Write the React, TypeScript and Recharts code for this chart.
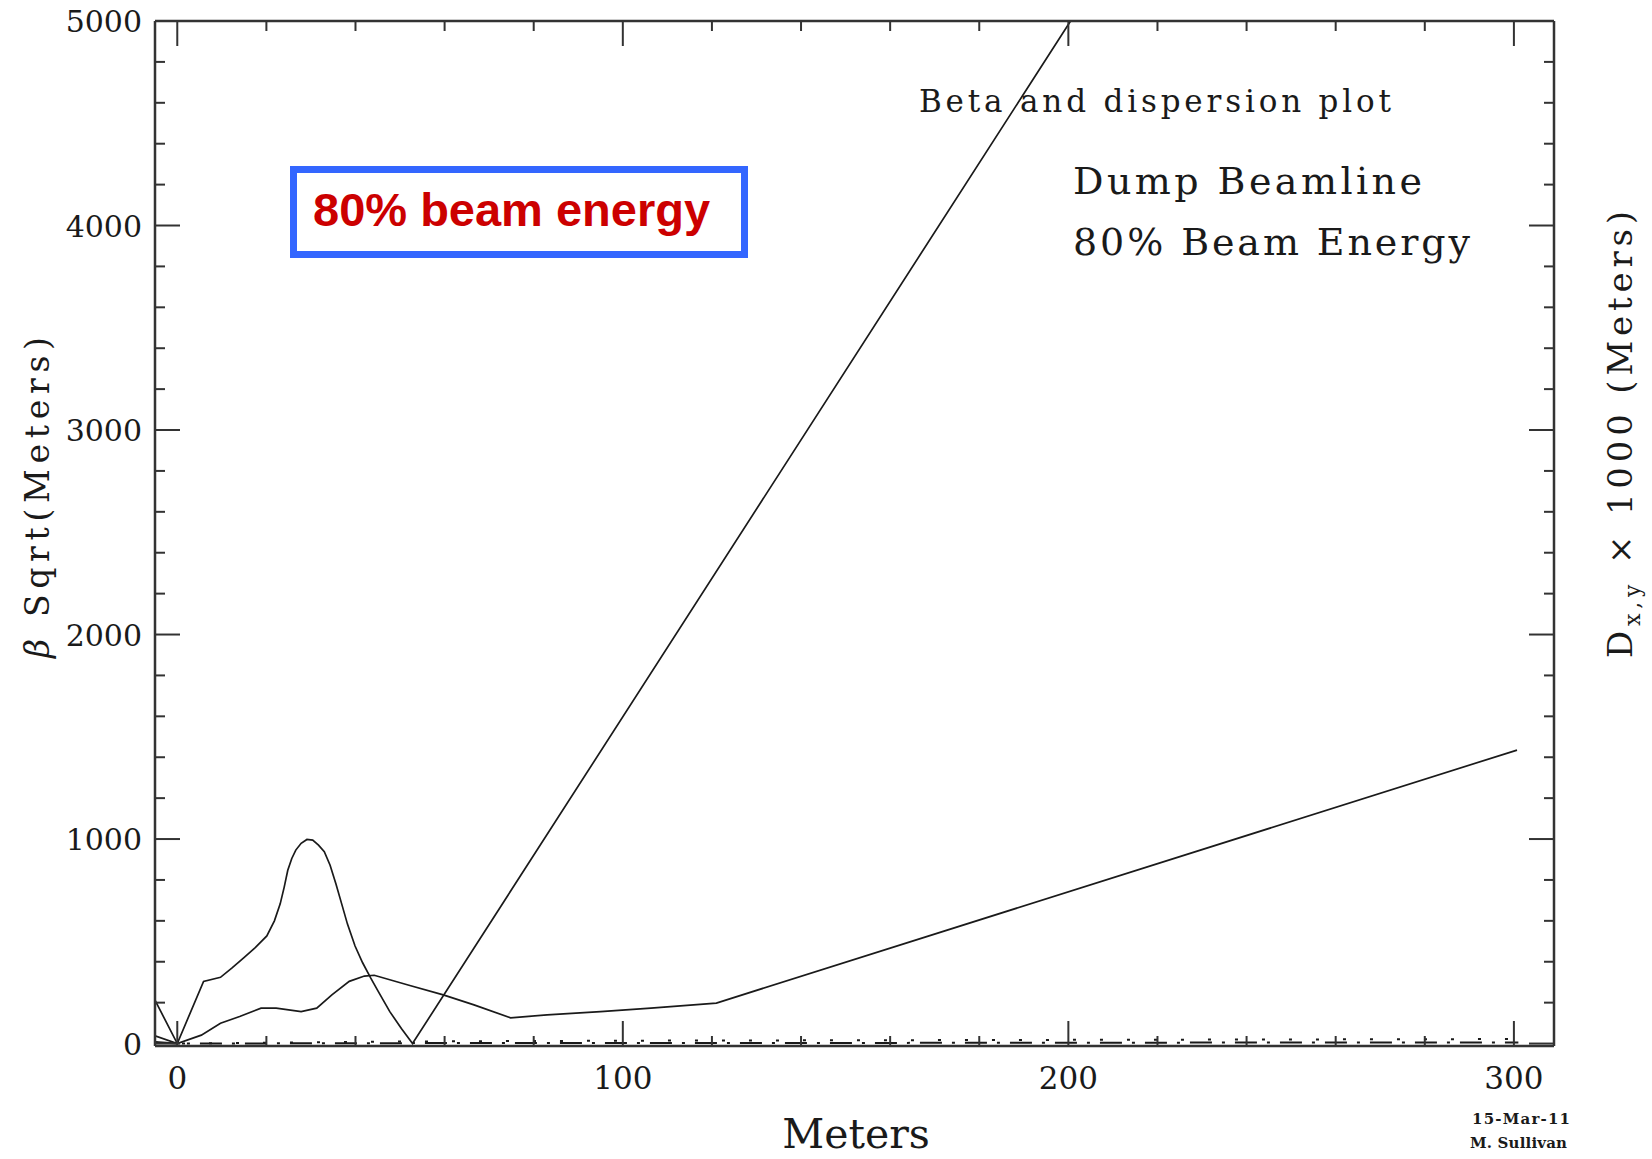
import React from 'react';
import { LineChart, Line, XAxis, YAxis } from 'recharts';

// ---- tick values ----
const xTicks = [0, 20, 40, 60, 80, 100, 120, 140, 160, 180, 200, 220, 240, 260, 280, 300];
const xLabelTicks = [0, 100, 200, 300];
const yTicks = [0, 200, 400, 600, 800, 1000, 1200, 1400, 1600, 1800, 2000, 2200, 2400, 2600, 2800, 3000, 3200, 3400, 3600, 3800, 4000, 4200, 4400, 4600, 4800, 5000];
const yLabelTicks = [0, 1000, 2000, 3000, 4000, 5000];

// ---- beta curve with the big peak (then steep straight rise) ----
const betaAs = [-5, 0, 5.9, 9.7, 12.3, 14.9, 17.5, 20.1, 21.8, 23.1, 24.0, 24.8, 25.7, 26.6, 27.8, 29.1, 30.4, 31.7, 33.0, 34.3, 35.6, 36.9, 38.2, 39.9, 41.6, 43.4, 45.1, 47.7, 50.3, 52.8, 200.5];
const betaAv = [212, 0, 304, 324, 370, 419, 469, 526, 600, 683, 765, 847, 905, 946, 979, 998, 995, 970, 938, 872, 781, 683, 584, 477, 395, 321, 255, 156, 74, 0, 5000];

// ---- beta curve with the small bump (then slow straight rise) ----
const betaBs = [-5, 0, 5.4, 9.7, 14, 18.8, 22.2, 27.8, 31.3, 34.7, 38.6, 42, 44.2, 52, 59.7, 66.6, 74.8, 83, 95, 106.3, 121, 300.7];
const betaBv = [38, 0, 41, 99, 132, 173, 173, 156, 173, 238, 304, 330, 334, 285, 238, 189, 126, 140, 156, 173, 198, 1435];

// ---- dispersion (x1000), hugging zero ----
const dispXs = [-5, 0, 50, 100, 150, 200, 250, 301];
const dispXv = [8, 0, 2, 3, 3, 4, 5, 5];
const dispYs = [-5, 0, 50, 100, 150, 200, 250, 301];
const dispYv = [4, 0, 10, 14, 16, 18, 20, 22];

const toData = (s: number[], v: number[]) => s.map((x, i) => ({ x, y: v[i] }));
const betaA = toData(betaAs, betaAv);
const betaB = toData(betaBs, betaBv);
const dispX = toData(dispXs, dispXv);
const dispY = toData(dispYs, dispYv);

const AXIS = '#333';
const INK = '#1a1a1a';
const SERIF = "'DejaVu Serif', serif";
const W = 1652;
const H = 1159;

const LeftTick = (p: any) => {
  const { x, y, payload } = p;
  const v = payload.value;
  const major = yLabelTicks.includes(v);
  return (
    <g>
      <line x1={x} y1={y} x2={x + (major ? 25 : 10)} y2={y} stroke={AXIS} strokeWidth={2} />
      {major && (
        <text x={x - 13} y={y + 11} textAnchor="end" fontFamily={SERIF} fontSize={30} fill={INK}>
          {v}
        </text>
      )}
    </g>
  );
};

const RightTick = (p: any) => {
  const { x, y, payload } = p;
  const major = yLabelTicks.includes(payload.value);
  return <line x1={x} y1={y} x2={x - (major ? 25 : 10)} y2={y} stroke={AXIS} strokeWidth={2} />;
};

const BottomTick = (p: any) => {
  const { x, y, payload } = p;
  const v = payload.value;
  const major = xLabelTicks.includes(v);
  return (
    <g>
      <line x1={x} y1={y} x2={x} y2={y - (major ? 25 : 10)} stroke={AXIS} strokeWidth={2} />
      {major && (
        <text x={x} y={y + 43} textAnchor="middle" fontFamily={SERIF} fontSize={31} fill={INK}>
          {v}
        </text>
      )}
    </g>
  );
};

const TopTick = (p: any) => {
  const { x, y, payload } = p;
  const major = xLabelTicks.includes(payload.value);
  return <line x1={x} y1={y} x2={x} y2={y + (major ? 25 : 10)} stroke={AXIS} strokeWidth={2} />;
};

export default function App() {
  return (
    <div style={{ position: 'relative', width: W, height: H, background: '#fff' }}>
      <style>{'body{margin:0}'}</style>
      <LineChart width={W} height={H} margin={{ top: 11, right: 88, bottom: 73, left: 55 }}>
        <XAxis
          xAxisId="b"
          type="number"
          dataKey="x"
          domain={[-5, 309]}
          allowDataOverflow
          ticks={xTicks}
          interval={0}
          tickSize={0}
          tickMargin={0}
          height={40}
          axisLine={{ stroke: AXIS, strokeWidth: 2.5 }}
          tickLine={false}
          tick={<BottomTick />}
        />
        <XAxis
          xAxisId="t"
          orientation="top"
          type="number"
          dataKey="x"
          domain={[-5, 309]}
          allowDataOverflow
          ticks={xTicks}
          interval={0}
          tickSize={0}
          tickMargin={0}
          height={10}
          axisLine={{ stroke: AXIS, strokeWidth: 2.5 }}
          tickLine={false}
          tick={<TopTick />}
        />
        <YAxis
          yAxisId="l"
          type="number"
          dataKey="y"
          domain={[-12, 5000]}
          allowDataOverflow
          ticks={yTicks}
          interval={0}
          tickSize={0}
          tickMargin={0}
          width={100}
          axisLine={{ stroke: AXIS, strokeWidth: 2.5 }}
          tickLine={false}
          tick={<LeftTick />}
        />
        <YAxis
          yAxisId="r"
          orientation="right"
          type="number"
          dataKey="y"
          domain={[-12, 5000]}
          allowDataOverflow
          ticks={yTicks}
          interval={0}
          tickSize={0}
          tickMargin={0}
          width={10}
          axisLine={{ stroke: AXIS, strokeWidth: 2.5 }}
          tickLine={false}
          tick={<RightTick />}
        />
        <Line xAxisId="b" yAxisId="l" data={dispX} dataKey="y" type="linear" stroke={INK} strokeWidth={2} strokeDasharray="22 10 3 10" dot={false} isAnimationActive={false} />
        <Line xAxisId="b" yAxisId="l" data={dispY} dataKey="y" type="linear" stroke={INK} strokeWidth={2} strokeDasharray="3 24" dot={false} isAnimationActive={false} />
        <Line xAxisId="b" yAxisId="l" data={betaB} dataKey="y" type="linear" stroke={INK} strokeWidth={1.7} dot={false} isAnimationActive={false} />
        <Line xAxisId="b" yAxisId="l" data={betaA} dataKey="y" type="linear" stroke={INK} strokeWidth={1.7} dot={false} isAnimationActive={false} />
      </LineChart>
      <svg
        width={W}
        height={H}
        style={{ position: 'absolute', left: 0, top: 0, pointerEvents: 'none' }}
      >
        {/* plot titles */}
        <text x={919} y={112} fontFamily={SERIF} fontSize={31} fill={INK} textLength={472} lengthAdjust="spacing">
          Beta and dispersion plot
        </text>
        <text x={1073} y={194} fontFamily={SERIF} fontSize={38} fill={INK} textLength={349} lengthAdjust="spacing">
          Dump Beamline
        </text>
        <text x={1073} y={255} fontFamily={SERIF} fontSize={38} fill={INK} textLength={397} lengthAdjust="spacing">
          80% Beam Energy
        </text>
        {/* annotation box */}
        <rect x={293.5} y={169.5} width={451} height={85} fill="#fff" stroke="#3366ff" strokeWidth={7} />
        <text x={313} y={226} fontFamily="'Liberation Sans', Arial, sans-serif" fontWeight="bold" fontSize={47} fill="#cc0000">
          80% beam energy
        </text>
        {/* axis titles */}
        <text x={856} y={1148} textAnchor="middle" fontFamily={SERIF} fontSize={41} fill={INK}>
          Meters
        </text>
        <text
          transform="translate(49,497.5) rotate(-90)"
          x={0}
          y={0}
          textAnchor="middle"
          fontFamily={SERIF}
          fontSize={33}
          fill={INK}
          textLength={321}
          lengthAdjust="spacing"
        >
          <tspan fontStyle="italic">β</tspan> Sqrt(Meters)
        </text>
        <text
          transform="translate(1632,434.5) rotate(-90)"
          x={0}
          y={0}
          textAnchor="middle"
          fontFamily={SERIF}
          fontSize={34}
          fill={INK}
          textLength={447}
          lengthAdjust="spacing"
        >
          D<tspan dy={8} fontSize={22}>x,y</tspan>
          <tspan dy={-8}> × 1000 (Meters)</tspan>
        </text>
        {/* signature */}
        <text x={1472} y={1124} fontFamily={SERIF} fontWeight="bold" fontSize={15} fill={INK} textLength={98} lengthAdjust="spacing">
          15-Mar-11
        </text>
        <text x={1470} y={1148} fontFamily={SERIF} fontWeight="bold" fontSize={15} fill={INK} textLength={97} lengthAdjust="spacing">
          M. Sullivan
        </text>
      </svg>
    </div>
  );
}
